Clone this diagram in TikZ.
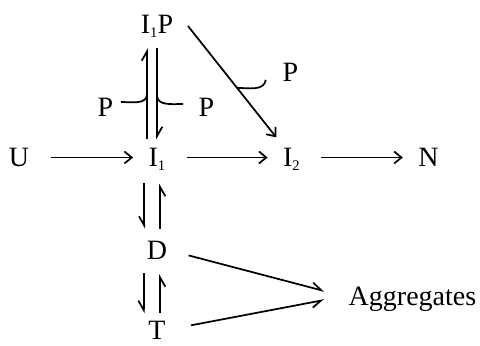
\documentclass[tikz,border=0pt]{standalone}
\usepackage{fontspec}
\setmainfont{Liberation Serif}
\usetikzlibrary{arrows.meta}
\newcommand\lowidx[1]{\raisebox{-0.15em}{\fontsize{11}{11}\selectfont #1}}
\begin{document}
\begin{tikzpicture}[x=0.75pt, y=-0.75pt, line width=1.3pt,
    lbl/.style={inner sep=0pt, text height=13.9pt, text depth=0pt, font=\fontsize{21}{25}\selectfont},
    fwd/.style={-{Straight Barb[length=5.5pt, width=9pt]}},
    hpl/.style={-{Straight Barb[harpoon, length=7pt, width=8pt]}},
    hpr/.style={-{Straight Barb[harpoon, swap, length=7pt, width=8pt]}},
    hrow/.style={fwd, shorten <=15.5pt, shorten >=11pt}]
    % Kette U -> I1 -> I2 -> N mit Nebenzweigen
    \useasboundingbox (0,0) rectangle (480,346);
    \node[lbl] (i1p) at (157,24) {I\lowidx{1}P};
    \node[lbl] (u) at (19,157.5) {U};
    \node[lbl] (i1) at (157,157.5) {I\lowidx{1}};
    \node[lbl] (i2) at (291.5,157.5) {I\lowidx{2}};
    \node[lbl] (n) at (428.5,157.5) {N};
    \node[lbl] (d) at (157,250) {D};
    \node[lbl] (t) at (157,330) {T};
    \node[lbl] (agg) at (412.5,296) {Aggregates};
    \node[lbl] (pleft) at (105.5,107) {P};
    \node[lbl] (pright) at (206.5,107) {P};
    \node[lbl] (pdiag) at (290.5,72.5) {P};

    \draw[hrow] (u) -- (i1);
    \draw[hrow] (i1) -- (i2);
    \draw[hrow] (i2) -- (n);

    \draw[hpl, shorten <=6pt, shorten >=10.5pt] ([xshift=-7.5pt]i1.north) -- coordinate[pos=0.47] (hookl) ([xshift=-7.5pt]i1p.south);
    \draw[hpl, shorten <=10.5pt, shorten >=6pt] (i1p.south) -- coordinate[pos=0.54] (hookr) (i1.north);
    \draw[fwd] ([shift={(10.5pt,-1.5pt)}]i1p.east) -- coordinate[pos=0.556] (hookd) ([shift={(-4.5pt,7.5pt)}]i2.north west);

    \draw ([shift={(5pt,3.75pt)}]pleft.east) to[out=0, in=-90] (hookl);
    \draw ([shift={(-11pt,2.25pt)}]pright.west) to[out=180, in=-90] (hookr);
    \draw ([shift={(-12pt,-5.5pt)}]pdiag.west) to[out=-100, in=0] (hookd);

    \draw[hpr, shorten <=11.25pt, shorten >=8.25pt] ([xshift=-9.5pt]i1.south) -- ([xshift=-9.5pt]d.north);
    \draw[hpr, shorten <=8pt, shorten >=12pt] ([xshift=2.25pt]d.north) -- ([xshift=2.25pt]i1.south);
    \draw[hpr, shorten <=10pt, shorten >=5pt] ([xshift=-10pt]d.south) -- ([xshift=-10pt]t.north);
    \draw[hpr, shorten <=5pt, shorten >=10.5pt] ([xshift=2.25pt]t.north) -- ([xshift=2.25pt]d.south);

    \draw[hpl, shorten <=16pt] (d.east) -- ([shift={(-17.8pt,3.75pt)}]agg.west);
    \draw[hpr, shorten <=18.75pt] (t.east) -- ([shift={(-17.8pt,-3pt)}]agg.west);
\end{tikzpicture}
\end{document}
